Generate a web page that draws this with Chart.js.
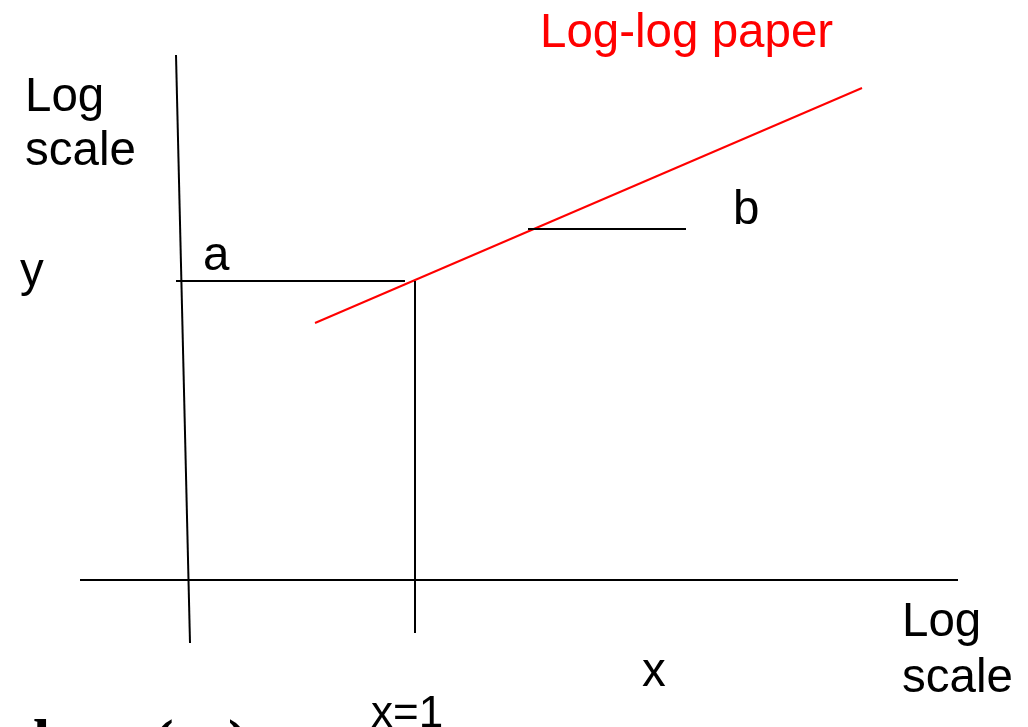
<!DOCTYPE html>
<html>
<head>
<meta charset="utf-8">
<script src="https://cdn.jsdelivr.net/npm/chart.js@4/dist/chart.umd.min.js"></script>
<style>
    html, body { margin: 0; padding: 0; background: #fff; }
    #wrap { width: 1028px; height: 727px; position: relative; }
</style>
</head>
<body>
<div id="wrap"><canvas id="chart"></canvas></div>
<script>
// diagram frame: x 0..1028, y 0..727 (y grows downward)
const yAxisLine  = [[176, 55], [190, 643]];
const xAxisLine  = [[80, 580], [958, 580]];
const aLevel     = [[176, 281], [405, 281]];
const xOneLine   = [[415, 281], [415, 633]];
const bLevel     = [[528, 229], [686, 229]];
const fitLine    = [[315, 323], [862, 88]];

const labels = [
    { text: "Log-log paper", x: 540, y: 47,  color: "#ff0000" },
    { text: "Log",           x: 25,  y: 111 },
    { text: "scale",         x: 25,  y: 165 },
    { text: "y",             x: 20,  y: 286 },
    { text: "a",             x: 203, y: 270 },
    { text: "b",             x: 733, y: 224 },
    { text: "x",             x: 642, y: 686 },
    { text: "Log",           x: 902, y: 636 },
    { text: "scale",         x: 902, y: 692 },
    { text: "x=1",           x: 371, y: 727, size: 44 },
];

// formula at the bottom edge, mostly cut off
const formulaBits = [
    { text: "log", x: 33,  y: 762 },
    { text: "(",   x: 153, y: 762 },
    { text: "y",   x: 180, y: 762 },
    { text: ")",   x: 228, y: 762 },
];

const toPts = seg => seg.map(p => ({ x: p[0], y: p[1] }));

function seg(data, color) {
    return {
        data: toPts(data),
        showLine: true,
        borderColor: color,
        borderWidth: 2,
        pointRadius: 0,
        fill: false,
    };
}

const textPlugin = {
    id: "texts",
    afterDraw(chart) {
        const { ctx, scales } = chart;
        ctx.save();
        ctx.textBaseline = "alphabetic";
        ctx.textAlign = "left";
        for (const l of labels) {
            ctx.fillStyle = l.color || "#000";
            ctx.font = (l.size || 47.5) + "px 'Liberation Sans', Arial, sans-serif";
            ctx.fillText(l.text, scales.x.getPixelForValue(l.x), scales.y.getPixelForValue(l.y));
        }
        ctx.fillStyle = "#000";
        ctx.font = "bold 62px 'Liberation Serif', 'Times New Roman', serif";
        for (const f of formulaBits) {
            ctx.fillText(f.text, scales.x.getPixelForValue(f.x), scales.y.getPixelForValue(f.y));
        }
        ctx.restore();
    },
};

new Chart(document.querySelector("#chart"), {
    type: "scatter",
    data: {
        datasets: [
            seg(yAxisLine, "#000"),
            seg(xAxisLine, "#000"),
            seg(aLevel, "#000"),
            seg(xOneLine, "#000"),
            seg(bLevel, "#000"),
            seg(fitLine, "#ff0000"),
        ],
    },
    options: {
        responsive: true,
        maintainAspectRatio: false,
        animation: false,
        layout: { padding: 0 },
        plugins: { legend: { display: false }, tooltip: { enabled: false } },
        scales: {
            x: { type: "linear", min: 0, max: 1028, display: false },
            y: { type: "linear", min: 0, max: 727, reverse: true, display: false },
        },
    },
    plugins: [textPlugin],
});
</script>
</body>
</html>
